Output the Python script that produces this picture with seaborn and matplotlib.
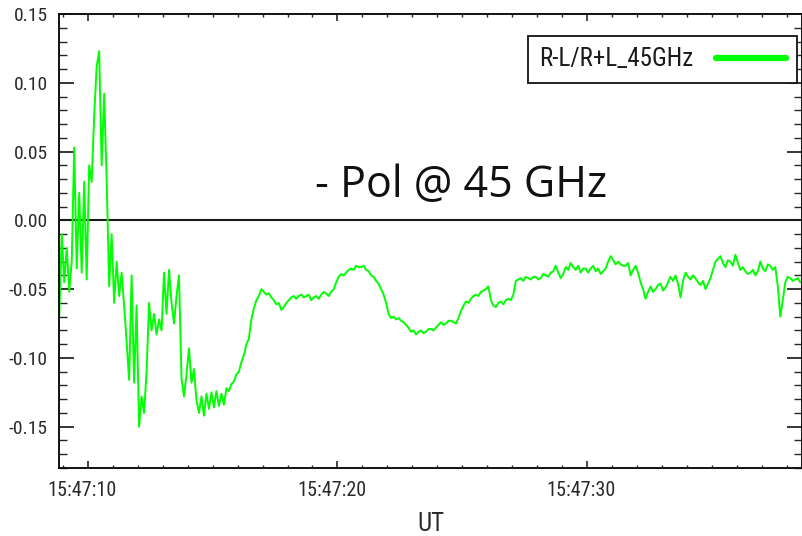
import numpy as np
import pandas as pd
import matplotlib
matplotlib.use("Agg")
import matplotlib.pyplot as plt
import matplotlib.transforms as mtransforms
from matplotlib.ticker import FixedLocator, MultipleLocator
import seaborn as sns

# Time base: seconds after 15:47:00 UT, one sample every 0.1 s
fine_start, fine_step, fine_count = 8.85, 0.1, 77
slow_start, slow_step, slow_count = 16.55, 0.1, 222

# Circular polarisation degree (R-L)/(R+L) at 45 GHz: impulsive phase
pol_fine = [
    -0.070, -0.010, -0.045, -0.020, -0.052, -0.030,
    0.053, -0.035, 0.020, -0.038, 0.028, -0.043,
    0.040, 0.028, 0.076, 0.112, 0.123, 0.040, 0.092, 0.030, -0.048, -0.010,
    -0.060, -0.030, -0.055, -0.038, -0.062, -0.088, -0.116, -0.040, -0.118, -0.062,
    -0.150, -0.128, -0.140, -0.110, -0.060, -0.080, -0.068, -0.083, -0.072, -0.080,
    -0.038, -0.068, -0.036, -0.060, -0.075, -0.055, -0.040, -0.115, -0.128, -0.112,
    -0.093, -0.118, -0.108, -0.131, -0.140, -0.128, -0.142, -0.126, -0.137, -0.125,
    -0.136, -0.124, -0.135, -0.126, -0.134, -0.122, -0.124, -0.119, -0.117, -0.112,
    -0.110, -0.103, -0.098, -0.090, -0.086,
]
# ... and the gradual phase that follows
pol_slow = [
    -0.072, -0.064, -0.058, -0.055, -0.050, -0.052, -0.054, -0.053, -0.056, -0.058,
    -0.061, -0.060, -0.065, -0.063, -0.060, -0.058, -0.056, -0.055, -0.057, -0.055,
    -0.054, -0.056, -0.055, -0.054, -0.058, -0.056, -0.055, -0.057, -0.054, -0.052,
    -0.053, -0.055, -0.052, -0.050, -0.045, -0.041, -0.039, -0.040, -0.038, -0.036,
    -0.035, -0.036, -0.033, -0.034, -0.034, -0.033, -0.036, -0.037, -0.040, -0.041,
    -0.044, -0.046, -0.050, -0.054, -0.060, -0.068, -0.071, -0.070, -0.072, -0.071,
    -0.073, -0.074, -0.076, -0.078, -0.081, -0.080, -0.083, -0.081, -0.080, -0.082,
    -0.081, -0.079, -0.079, -0.080, -0.078, -0.076, -0.074, -0.076, -0.075, -0.073,
    -0.073, -0.074, -0.075, -0.071, -0.066, -0.062, -0.059, -0.060, -0.057, -0.055,
    -0.054, -0.055, -0.052, -0.051, -0.050, -0.048, -0.058, -0.062, -0.063, -0.060,
    -0.059, -0.061, -0.058, -0.057, -0.058, -0.054, -0.044, -0.043, -0.042, -0.044,
    -0.041, -0.042, -0.043, -0.041, -0.041, -0.043, -0.042, -0.039, -0.040, -0.041,
    -0.038, -0.037, -0.033, -0.038, -0.042, -0.039, -0.034, -0.036, -0.031, -0.034,
    -0.036, -0.033, -0.038, -0.035, -0.035, -0.038, -0.035, -0.033, -0.037, -0.035,
    -0.039, -0.037, -0.035, -0.030, -0.026, -0.029, -0.032, -0.030, -0.032, -0.033,
    -0.033, -0.031, -0.040, -0.036, -0.033, -0.038, -0.045, -0.050, -0.057, -0.052,
    -0.048, -0.052, -0.050, -0.047, -0.046, -0.051, -0.049, -0.045, -0.041, -0.044,
    -0.040, -0.046, -0.056, -0.044, -0.038, -0.041, -0.043, -0.040, -0.042, -0.045,
    -0.047, -0.044, -0.050, -0.046, -0.042, -0.036, -0.030, -0.028, -0.026, -0.031,
    -0.034, -0.029, -0.030, -0.033, -0.025, -0.031, -0.036, -0.034, -0.037, -0.039,
    -0.038, -0.036, -0.040, -0.037, -0.030, -0.035, -0.037, -0.032, -0.033, -0.036,
    -0.034, -0.048, -0.070, -0.058, -0.045, -0.041, -0.042, -0.044, -0.043, -0.042,
    -0.045, -0.044,
]

x_ticks = [10, 20, 30]
x_tick_labels = ["15:47:10", "15:47:20", "15:47:30"]
y_ticks = [-0.15, -0.10, -0.05, 0.00, 0.05, 0.10, 0.15]
y_tick_labels = ["-0.15", "-0.10", "-0.05", "0.00", "0.05", "0.10", "0.15"]
series_name = "R-L/R+L_45GHz"
note_text = "- Pol @ 45 GHz"
x_title = "UT"

assert len(pol_fine) == fine_count and len(pol_slow) == slow_count
t_fine = np.round(fine_start + fine_step * np.arange(fine_count), 2)
t_slow = np.round(slow_start + slow_step * np.arange(slow_count), 2)
df = pd.DataFrame({
    "t": np.concatenate([t_fine, t_slow]),
    "pol": np.concatenate([pol_fine, pol_slow]),
    "series": series_name,
})

sns.set_style("ticks")
narrow = ["Liberation Sans Narrow", "Roboto Condensed", "DejaVu Sans"]
plt.rcParams["font.family"] = narrow
plt.rcParams["font.stretch"] = "condensed"

W, H = 803, 536
fig = plt.figure(figsize=(W / 100, H / 100), dpi=100)
fig.patch.set_facecolor("white")
ax = fig.add_axes([59 / W, (H - 468) / H, (802 - 59) / W, (468 - 14) / H])

sns.lineplot(data=df, x="t", y="pol", hue="series", palette=["#00ff00"],
             estimator=None, sort=False, linewidth=1.4, ax=ax)
ax.axhline(0.0, color="#1a1a1a", linewidth=1.5, zorder=1)

ax.set_xlim(8.84, 38.62)
ax.set_ylim(-0.18, 0.15)

ax.xaxis.set_major_locator(FixedLocator(x_ticks))
ax.set_xticklabels(x_tick_labels)
ax.xaxis.set_minor_locator(MultipleLocator(1))
ax.yaxis.set_major_locator(FixedLocator(y_ticks))
ax.set_yticklabels(y_tick_labels)
ax.yaxis.set_minor_locator(MultipleLocator(0.01))

label_color = "#2a2a2a"
ax.tick_params(axis="y", which="major", direction="in", length=11, width=1.3,
               left=True, right=True, pad=8, labelsize=14, labelcolor=label_color)
ax.tick_params(axis="y", which="minor", direction="in", length=5.5, width=1.0,
               left=True, right=True)
ax.tick_params(axis="x", which="major", direction="in", length=5, width=1.2,
               bottom=True, top=True, pad=9, labelsize=14.5, labelcolor=label_color)
ax.tick_params(axis="x", which="minor", direction="in", length=2.5, width=1.0,
               bottom=True, top=True)

shift = mtransforms.ScaledTranslation(-6 / 100, 0, fig.dpi_scale_trans)
for lbl in ax.get_xticklabels():
    lbl.set_transform(lbl.get_transform() + shift)

for side in ["left", "right", "top", "bottom"]:
    ax.spines[side].set_visible(True)
    ax.spines[side].set_color("#111111")
    ax.spines[side].set_linewidth(1.4)

ax.set_xlabel(x_title, fontsize=18, color=label_color, labelpad=9)
ax.set_ylabel("")

handles, _ = ax.get_legend_handles_labels()
for h in handles:
    h.set_linewidth(4.5)
leg = ax.legend(handles, [series_name], loc="upper right",
                bbox_to_anchor=(797 / W, 1 - 36 / H), bbox_transform=fig.transFigure,
                borderaxespad=0, frameon=True, fancybox=False, shadow=False,
                markerfirst=False, handlelength=2.8, handletextpad=0.9,
                borderpad=0.45, fontsize=18)
leg.get_frame().set_edgecolor("#111111")
leg.get_frame().set_linewidth(1.3)
leg.get_frame().set_alpha(1)
for txt in leg.get_texts():
    txt.set_color("#1a1a1a")

fig.text(315 / W, 1 - 197 / H, note_text, ha="left", va="baseline",
         fontsize=31, family=["Open Sans", "DejaVu Sans"], fontstretch="normal",
         color="#111111")

fig.savefig("out.png", dpi=100, facecolor="white")
